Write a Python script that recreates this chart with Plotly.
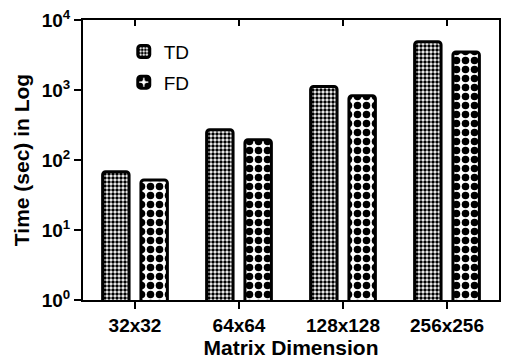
import plotly.graph_objects as go

categories = ["32x32", "64x64", "128x128", "256x256"]
td_values = [68, 270, 1120, 4900]
fd_values = [52, 195, 830, 3500]
y_tickvals = [1, 10, 100, 1000, 10000]
y_ticktext = ["10<sup>0</sup>", "10<sup>1</sup>", "10<sup>2</sup>", "10<sup>3</sup>", "10<sup>4</sup>"]

FONT = "Liberation Sans, Arial, sans-serif"

fig = go.Figure()
fig.add_trace(go.Bar(
    name="TD", x=categories, y=td_values, legendgroup="td",
    marker=dict(color="white",
                line=dict(color="black", width=3),
                pattern=dict(shape=".", size=4, solidity=0.6,
                             fgcolor="black", bgcolor="white", fillmode="replace")),
))
fig.add_trace(go.Bar(
    name="FD", x=categories, y=fd_values, legendgroup="fd",
    marker=dict(color="white",
                line=dict(color="black", width=3),
                pattern=dict(shape=".", size=9, solidity=0.55,
                             fgcolor="black", bgcolor="white", fillmode="replace")),
))
# helper trace for the top axis ticks
fig.add_trace(go.Scatter(x=[], y=[], xaxis="x2", yaxis="y", showlegend=False,
                         hoverinfo="skip"))

fig.update_layout(
    width=505, height=359,
    margin=dict(l=83, r=4, t=20, b=59),
    paper_bgcolor="white", plot_bgcolor="white",
    barmode="group", bargap=0.263, bargroupgap=0.31, barcornerradius=3,
    font=dict(family=FONT, color="black"),
    showlegend=True,
    legend=dict(x=0.098, y=0.955, xanchor="left", yanchor="top",
                bgcolor="rgba(0,0,0,0)", font=dict(size=19, family=FONT),
                tracegroupgap=3),
    xaxis=dict(type="category", range=[-0.5, 3.5],
               showline=True, linecolor="black", linewidth=2, mirror=True,
               ticks="outside", ticklen=7, tickwidth=2, tickcolor="black",
               tickfont=dict(size=19, family=FONT, weight="bold"),
               showgrid=False, zeroline=False,
               title=dict(text="Matrix Dimension", standoff=3,
                          font=dict(size=21, family=FONT, weight="bold"))),
    xaxis2=dict(type="linear", overlaying="x", side="top", anchor="y",
                range=[-0.5, 3.5], tickvals=[0, 1, 2, 3],
                ticks="inside", ticklen=6, tickwidth=2, tickcolor="black",
                showticklabels=False, showline=False, showgrid=False, zeroline=False),
    yaxis=dict(type="log", range=[0, 4],
               tickvals=y_tickvals, ticktext=y_ticktext,
               showline=True, linecolor="black", linewidth=2, mirror=True,
               ticks="outside", ticklen=7, tickwidth=2, tickcolor="black",
               tickfont=dict(size=19, family=FONT, weight="bold"),
               showgrid=False, zeroline=False,
               title=dict(text="Time (sec) in Log", standoff=6,
                          font=dict(size=21, family=FONT, weight="bold"))),
)

fig.write_html("out.html")
